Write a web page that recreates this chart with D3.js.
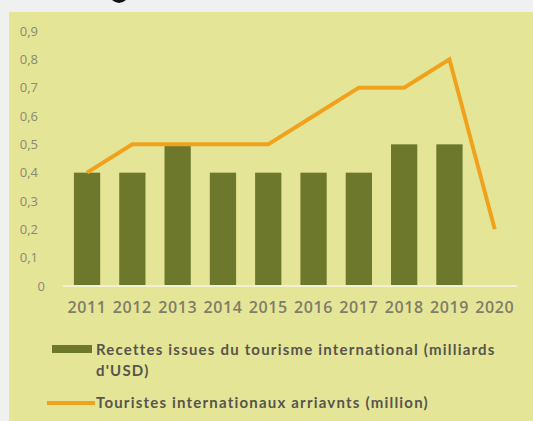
<!DOCTYPE html>
<html>
<head>
<meta charset="utf-8">
<script src="https://cdn.jsdelivr.net/npm/d3@7/dist/d3.min.js"></script>
<style>
  html, body { margin: 0; padding: 0; background: #eef1f0; }
  svg { display: block; }
</style>
</head>
<body>
<svg id="chart" width="533" height="421"></svg>
<script>
// Tourism data, 2011–2020
const years = ["2011", "2012", "2013", "2014", "2015", "2016", "2017", "2018", "2019", "2020"];
const receipts = [0.4, 0.4, 0.5, 0.4, 0.4, 0.4, 0.4, 0.5, 0.5, null];   // milliards d'USD
const arrivals = [0.4, 0.5, 0.5, 0.5, 0.5, 0.6, 0.7, 0.7, 0.8, 0.2];    // million
const yTicks = [0, 0.1, 0.2, 0.3, 0.4, 0.5, 0.6, 0.7, 0.8, 0.9];
const legendLabels = [
  ["Recettes issues du tourisme international (milliards", "d'USD)"],
  ["Touristes internationaux arriavnts (million)"]
];

const svg = d3.select("#chart");
const W = 533, H = 421;

// page and panel backgrounds
svg.append("rect").attr("width", W).attr("height", H).attr("fill", "#eef1f0");
svg.append("rect").attr("x", 9).attr("y", 12).attr("width", W - 9).attr("height", H - 12).attr("fill", "#e5e597");

// tail of the heading glyph above the panel
svg.append("path").attr("d", "M112,0 Q119,6 126,0 Z").attr("fill", "#111");

const x = d3.scaleBand().domain(years).range([64.4, 517.4]).paddingInner(0.42).paddingOuter(0.21);
const y = d3.scaleLinear().domain([0, 0.9]).range([286, 31]);

// y tick labels
const yAxis = d3.axisLeft(y).tickValues(yTicks)
  .tickFormat(d => d3.format(".1f")(d).replace(".", ",").replace(/^0,0$/, "0"))
  .tickSize(0).tickPadding(0);
const gy = svg.append("g").attr("transform", "translate(38,0)").call(yAxis);
gy.select(".domain").remove();
gy.selectAll("text")
  .attr("font-family", "'Open Sans', sans-serif").attr("font-size", 13)
  .attr("fill", "#8a8972")
  .attr("dx", d => d === 0 ? 7 : 0);

// bars
svg.append("g").selectAll("rect")
  .data(years.map((yr, i) => ({ yr, v: receipts[i] })).filter(d => d.v != null))
  .join("rect")
  .attr("x", d => x(d.yr))
  .attr("y", d => y(d.v))
  .attr("width", x.bandwidth())
  .attr("height", d => y(0) - y(d.v))
  .attr("fill", "#6d782c");

// baseline + year labels
const xAxis = d3.axisBottom(x).tickSize(0).tickPadding(0);
const gx = svg.append("g").attr("transform", `translate(0,${y(0)})`).call(xAxis);
gx.select(".domain").attr("stroke", "#f1f0d8").attr("stroke-width", 2)
  .attr("d", "M63,0H517");
gx.selectAll("text")
  .attr("font-family", "'Open Sans', sans-serif").attr("font-size", 16)
  .attr("font-weight", 600).attr("letter-spacing", 0.6)
  .attr("fill", "#7e7d68").attr("dy", 27);

// arrivals line
const line = d3.line().x((d, i) => x(years[i]) + x.bandwidth() / 2).y(d => y(d));
svg.append("path").datum(arrivals)
  .attr("d", line).attr("fill", "none")
  .attr("stroke", "#f0a21c").attr("stroke-width", 4)
  .attr("stroke-linejoin", "miter");

// legend
const lg = svg.append("g");
lg.append("rect").attr("x", 52).attr("y", 345).attr("width", 40).attr("height", 8).attr("fill", "#6d782c");
lg.append("line").attr("x1", 47).attr("x2", 95).attr("y1", 403).attr("y2", 403)
  .attr("stroke", "#f0a21c").attr("stroke-width", 4);

const legendText = (lines, yTop) => {
  const t = lg.append("text").attr("x", 96).attr("y", yTop)
    .attr("font-family", "Lato, sans-serif").attr("font-weight", 700)
    .attr("font-size", 15).attr("letter-spacing", 1.2).attr("fill", "#56554c");
  lines.forEach((s, i) => t.append("tspan").attr("x", 96).attr("dy", i === 0 ? 0 : 21).text(s));
};
legendText(legendLabels[0], 355);
legendText(legendLabels[1], 408);
</script>
</body>
</html>
